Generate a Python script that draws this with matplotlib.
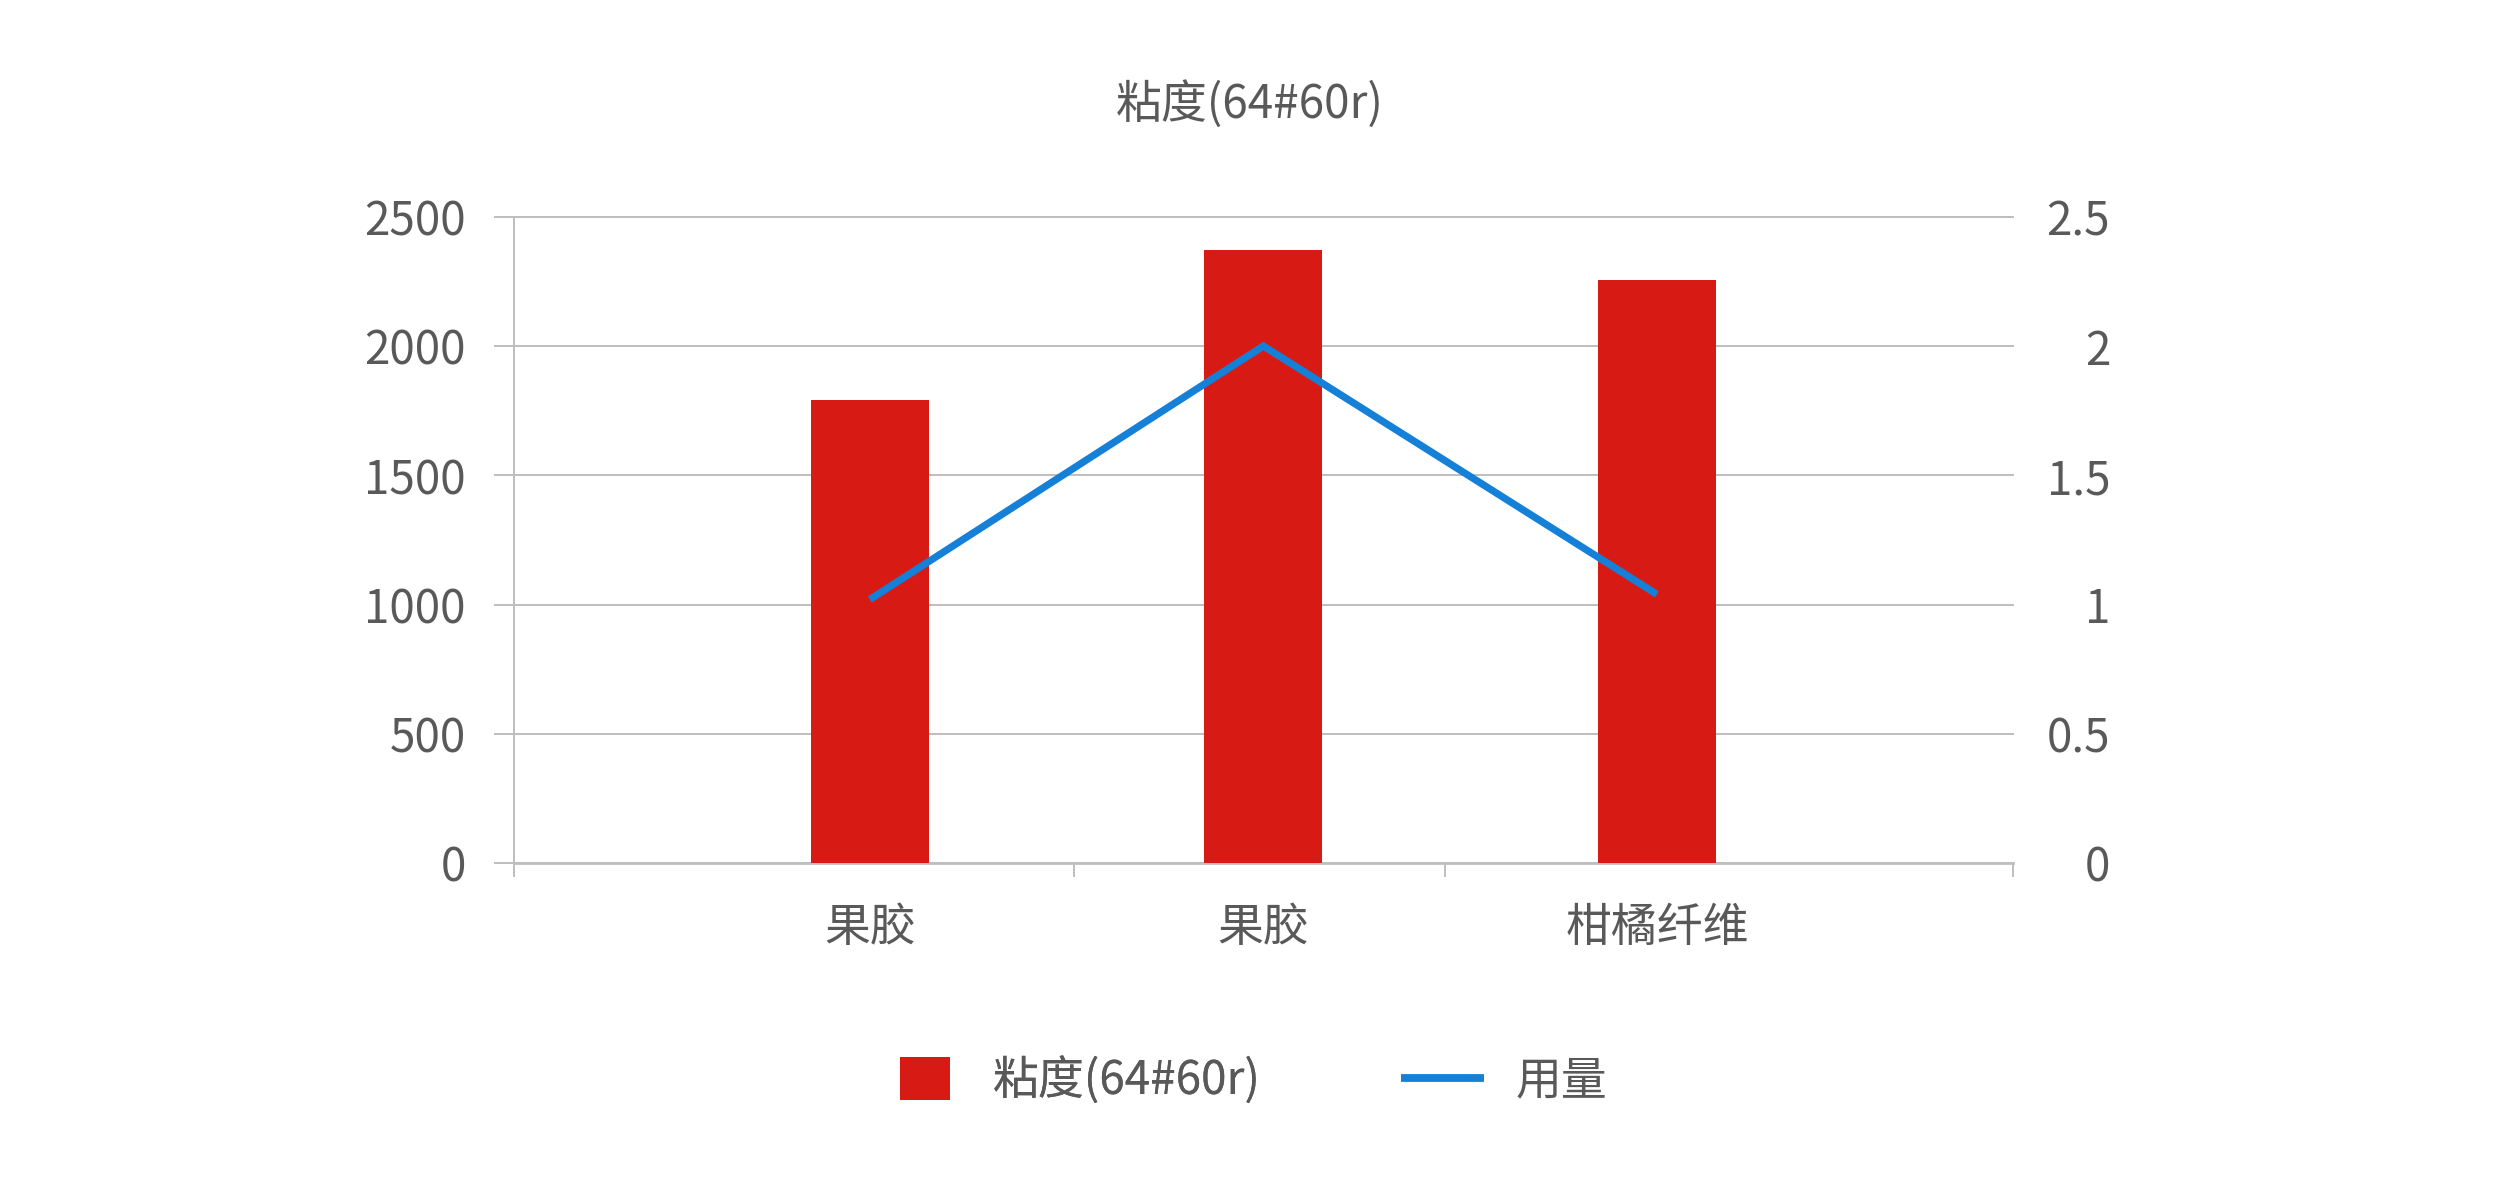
import matplotlib
matplotlib.use("Agg")
import matplotlib.pyplot as plt
from matplotlib.patches import Patch
from matplotlib.lines import Line2D

plt.rcParams['font.family'] = ['Noto Sans CJK SC', 'DejaVu Sans']

# data
categories = ['果胶', '果胶', '柑橘纤维']
viscosity = [1790, 2370, 2255]
dosage = [1.02, 2.0, 1.04]
left_ticks = [0, 500, 1000, 1500, 2000, 2500]
right_ticks = [0, 0.5, 1, 1.5, 2, 2.5]
right_labels = ['0', '0.5', '1', '1.5', '2', '2.5']

bar_color = '#D71B14'
line_color = '#1480D8'
txt = '#595959'
grid_c = '#BFBFBF'
fs = 33

fig = plt.figure(figsize=(25.01, 11.78), dpi=100)
ax = fig.add_axes([0.2054, 0.2672, 0.5995, 0.5488])
x = list(range(len(categories)))

ax.set_xlim(-0.905, 2.905)
ax.set_ylim(0, 2500)
ax.bar(x, viscosity, width=0.30, color=bar_color, zorder=3)

ax.set_yticks(left_ticks)
ax.set_yticklabels([str(v) for v in left_ticks])
ax.grid(axis='y', color=grid_c, linewidth=1.44, zorder=0)
for gl in ax.get_ygridlines():
    gl.set_clip_on(False)
ax.tick_params(axis='y', direction='out', length=14.4, width=1.44, color=grid_c,
               labelsize=fs, labelcolor=txt, pad=20)

# x axis: separator ticks + category labels
ax.set_xticks([-0.905, 0.52, 1.462, 2.905])
ax.set_xticklabels([])
ax.set_xticks(x, minor=True)
ax.set_xticklabels(categories, minor=True)
ax.tick_params(axis='x', which='major', direction='out', length=10, width=1.44, color=grid_c)
ax.tick_params(axis='x', which='minor', length=0, labelsize=fs, labelcolor=txt, pad=29)

for s in ['top', 'right']:
    ax.spines[s].set_visible(False)
ax.spines['left'].set_color(grid_c)
ax.spines['left'].set_linewidth(1.44)
ax.spines['bottom'].set_color(grid_c)
ax.spines['bottom'].set_linewidth(2.0)

ax2 = ax.twinx()
ax2.set_ylim(0, 2.5)
ax2.plot(x, dosage, color=line_color, linewidth=5.2, solid_capstyle='butt',
         solid_joinstyle='miter', zorder=4)
ax2.set_yticks(right_ticks)
ax2.set_yticklabels(right_labels, ha='right')
ax2.tick_params(axis='y', length=0, labelsize=fs, labelcolor=txt, pad=70)
for s in ax2.spines.values():
    s.set_visible(False)

fig.text(1250 / 2501, 1 - 105 / 1178, '粘度(64#60r)', ha='center', va='center',
         fontsize=fs, color=txt)

# legends
leg1 = fig.legend(handles=[Patch(facecolor=bar_color, edgecolor='none', label='粘度(64#60r)')],
                  loc='center left', bbox_to_anchor=(900 / 2501, 1 - 1081 / 1178),
                  frameon=False, fontsize=fs, labelcolor=txt, borderpad=0, borderaxespad=0,
                  handlelength=50 / 46, handleheight=50 / 46, handletextpad=0.93)
leg2 = fig.legend(handles=[Line2D([], [], color=line_color, linewidth=5.6,
                                  solid_capstyle='butt', label='用量')],
                  loc='center left', bbox_to_anchor=(1401 / 2501, 1 - 1081 / 1178),
                  frameon=False, fontsize=fs, labelcolor=txt, borderpad=0, borderaxespad=0,
                  handlelength=83 / 46, handletextpad=0.7)
fig.add_artist(leg1)

fig.savefig('out.png', dpi=100)
